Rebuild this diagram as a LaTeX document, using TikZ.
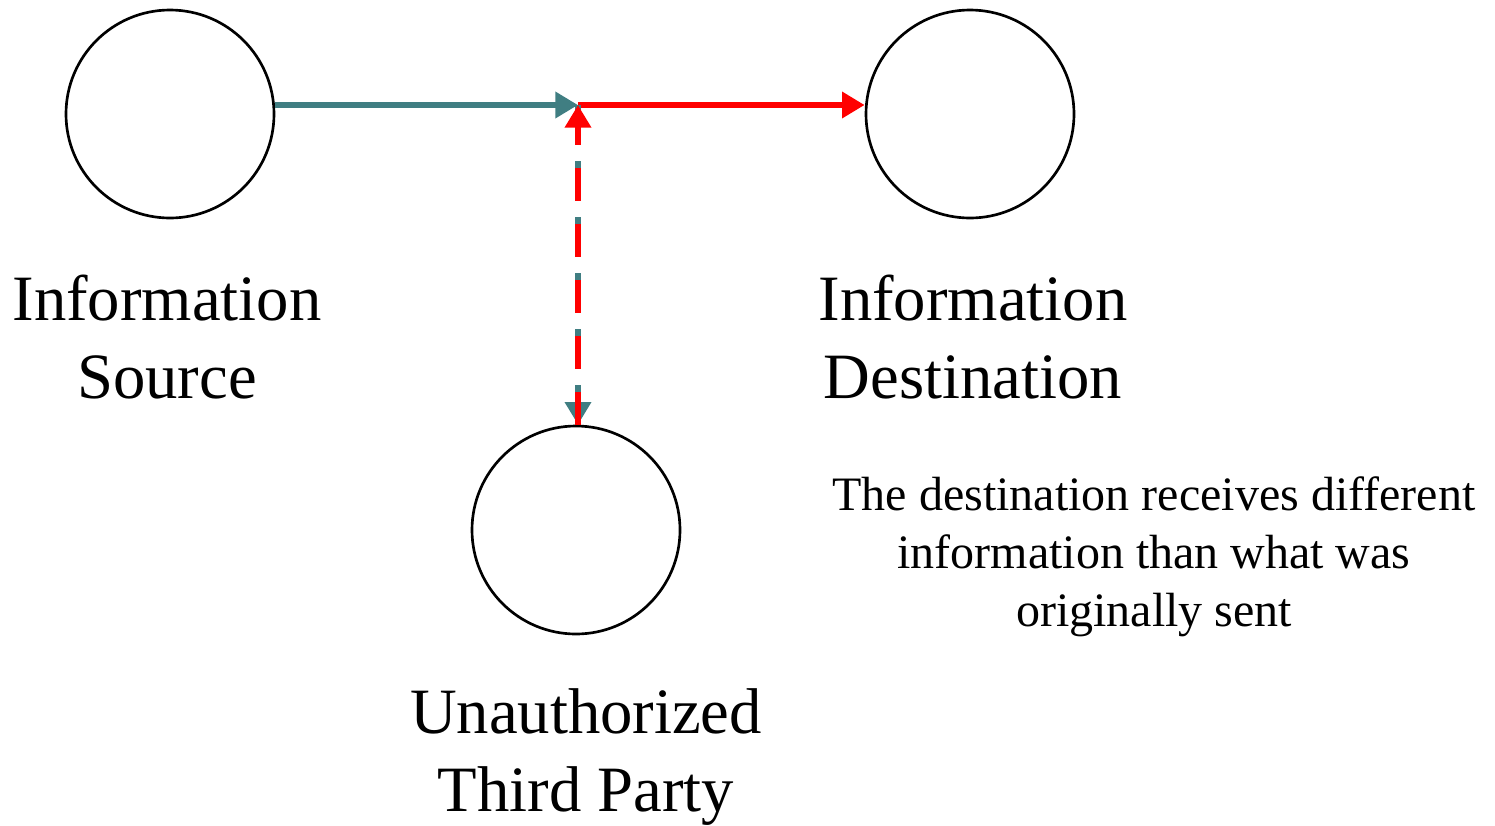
\documentclass[tikz,border=0pt]{standalone}
\usepackage{fontspec}
\setmainfont{Liberation Serif}
\usetikzlibrary{arrows.meta}
\definecolor{tealc}{RGB}{64,126,130}
\definecolor{redc}{RGB}{255,0,0}
\tikzset{
  party/.style={circle, draw=black, line width=2pt, minimum size=156pt, inner sep=0pt},
  biglabel/.style={align=center, font=\fontsize{48.5pt}{58pt}\selectfont, inner sep=0pt},
  smalllabel/.style={align=center, font=\fontsize{36pt}{43.5pt}\selectfont, inner sep=0pt},
  flow/.style={line width=5pt},
  tipA/.style={-{Triangle[length=17pt,width=19pt]}},
  dashpat/.style={dash pattern=on 24.75pt off 17.25pt},
}
\begin{document}
\begin{tikzpicture}[x=0.75pt,y=-0.75pt]
\useasboundingbox (0,0) rectangle (1495,825);
\node[party] (src) at (170,114) {};
\node[party] (dst) at (970,114) {};
\node[party] (thp) at (576,530) {};
\coordinate (j) at (578,105);
\node[biglabel] (srcl) at (167,337) {Information\\Source};
\node[biglabel] (dstl) at (973,337) {Information\\Destination};
\node[biglabel] (thpl) at (586,757) {Unauthorized\\Third Party};
\node[smalllabel] (note) at (1154,557) {The destination receives different\\information than what was\\originally sent};
\draw[flow, tealc, tipA] (j -| src.east) -- (j);
\draw[flow, redc, tipA] (j) -- (j -| dst.west);
\draw[flow, tealc, tipA, dashpat] (j) -- (j |- thp.north);
\draw[flow, redc, tipA, dashpat] (j |- thp.north) -- (j);
\end{tikzpicture}
\end{document}
